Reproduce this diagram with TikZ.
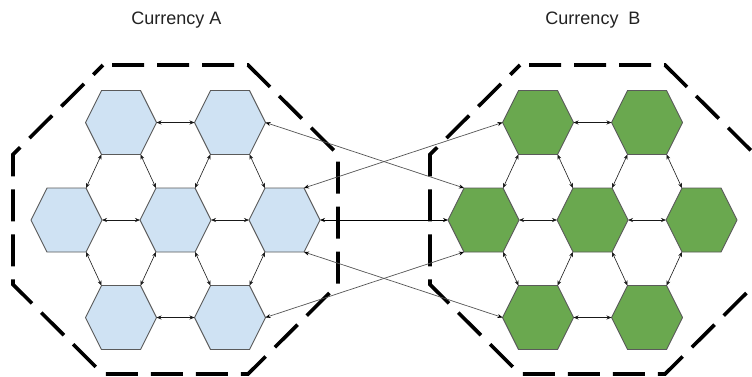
\documentclass[tikz,border=0pt]{standalone}
\usepackage{fontspec}
\setmainfont{Liberation Sans}
\usetikzlibrary{arrows.meta,calc}
\definecolor{hexblue}{HTML}{CFE2F3}
\definecolor{hexgreen}{HTML}{6AA84F}
\definecolor{hexedge}{HTML}{5A5A5A}
\definecolor{crossline}{HTML}{555555}
\definecolor{txt}{HTML}{222222}
\tikzset{
  hexstyle/.style={draw=hexedge, line width=0.9pt, line join=round},
  octo/.style={draw=black, line width=3.6pt, dash pattern=on 32pt off 13pt, dash phase=36pt},
  conn/.style={draw=black!90, line width=0.6pt, {Stealth[length=5pt,width=4pt]}-{Stealth[length=5pt,width=4pt]}},
  cross/.style={draw=crossline, line width=0.7pt, {Stealth[length=5pt,width=4pt,color=black]}-{Stealth[length=5pt,width=4pt,color=black]}},
  lbl/.style={font=\fontsize{18}{21}\selectfont, text=txt, inner sep=0pt}
}
\newcommand\hexcell[4]{%
  \coordinate (#1) at (#2,#3);
  \coordinate (#1-l) at ($(#1)+(-35.5,0)$);
  \coordinate (#1-tl) at ($(#1)+(-19.5,-32)$);
  \coordinate (#1-tr) at ($(#1)+(19.5,-32)$);
  \coordinate (#1-r) at ($(#1)+(35.5,0)$);
  \coordinate (#1-br) at ($(#1)+(19.5,32)$);
  \coordinate (#1-bl) at ($(#1)+(-19.5,32)$);
  \filldraw[hexstyle,fill=#4] (#1-tl) -- (#1-tr) -- (#1-r) -- (#1-br) -- (#1-bl) -- (#1-l) -- cycle;}
\newcommand\octagon[3]{%
  \coordinate (#1) at (#2,#3);
  \draw[octo] ($(#1)+(-72.5,-154.5)$) -- ($(#1)+(72.5,-154.5)$) -- ($(#1)+(162.5,-65)$)
    -- ($(#1)+(162.5,65)$) -- ($(#1)+(72.5,154.5)$) -- ($(#1)+(-72.5,154.5)$)
    -- ($(#1)+(-162.5,65)$) -- ($(#1)+(-162.5,-65)$) -- cycle;}
\begin{document}
\begin{tikzpicture}[x=1pt,y=-1pt]
\useasboundingbox (0,0) rectangle (752,376);
\clip (0,0) rectangle (752,376);
\fill[white] (0,0) rectangle (752,376);
% labels
\node[lbl] (la) at (176.5,20) {Currency A};
\node[lbl] (lb) at (593,20) {Currency\ \ B};
% left group
\hexcell{a1}{121}{122.5}{hexblue}
\hexcell{a2}{230}{122.5}{hexblue}
\hexcell{b1}{66.5}{220}{hexblue}
\hexcell{b2}{175.5}{220}{hexblue}
\hexcell{b3}{284.5}{220}{hexblue}
\hexcell{c1}{121}{317.5}{hexblue}
\hexcell{c2}{230}{317.5}{hexblue}
% right group
\hexcell{d1}{538}{122.5}{hexgreen}
\hexcell{d2}{647}{122.5}{hexgreen}
\hexcell{e1}{483.5}{220}{hexgreen}
\hexcell{e2}{592.5}{220}{hexgreen}
\hexcell{e3}{701.5}{220}{hexgreen}
\hexcell{f1}{538}{317.5}{hexgreen}
\hexcell{f2}{647}{317.5}{hexgreen}
% intra connectors
\foreach \u/\m/\w in {a/b/c, d/e/f}{
  \draw[conn] (\u1-r) -- (\u2-l);
  \draw[conn] (\u1-bl) -- (\m1-tr);
  \draw[conn] (\u1-br) -- (\m2-tl);
  \draw[conn] (\u2-bl) -- (\m2-tr);
  \draw[conn] (\u2-br) -- (\m3-tl);
  \draw[conn] (\m1-r) -- (\m2-l);
  \draw[conn] (\m2-r) -- (\m3-l);
  \draw[conn] (\m1-br) -- (\w1-tl);
  \draw[conn] (\m2-bl) -- (\w1-tr);
  \draw[conn] (\m2-br) -- (\w2-tl);
  \draw[conn] (\m3-bl) -- (\w2-tr);
  \draw[conn] (\w1-r) -- (\w2-l);
}
% octagons
\octagon{oa}{175.5}{219.5}
\octagon{ob}{592.5}{219.5}
% cross connectors
\draw[cross] (a2-r) -- (e1-tl);
\draw[cross] (b3-tr) -- (d1-l);
\draw[cross,draw=black] (b3-r) -- (e1-l);
\draw[cross] (b3-br) -- (f1-l);
\draw[cross] (c2-r) -- (e1-bl);
\end{tikzpicture}
\end{document}
